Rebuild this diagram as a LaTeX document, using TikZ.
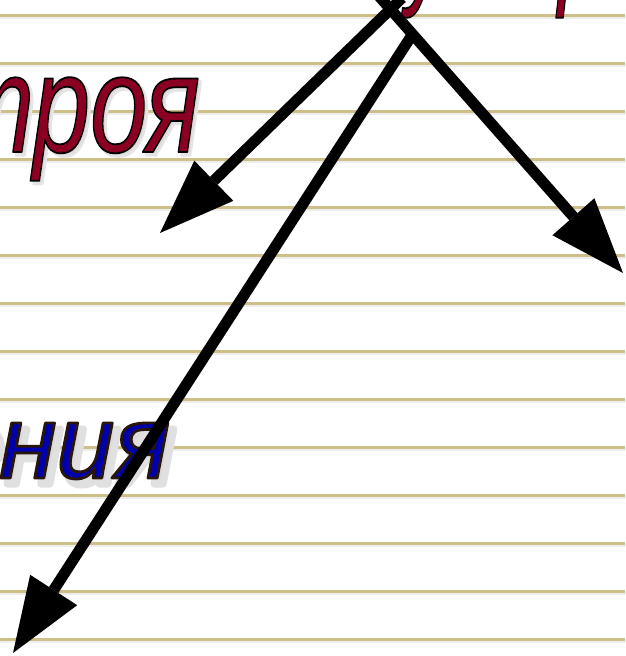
\documentclass[tikz,border=0pt]{standalone}
\usepackage{fontspec}
\usepackage{graphicx}
\usetikzlibrary{arrows.meta}

\newfontfamily\slidefont[Script=Cyrillic]{Liberation Sans}

\definecolor{slidered}{RGB}{139,0,34}
\definecolor{slideblue}{RGB}{0,0,170}
\definecolor{shade}{RGB}{218,218,218}
\definecolor{ruling}{RGB}{206,190,135}

% filled and stroked glyphs: #1 fill, #2 stroke rgb, #3 stroke width, #4 text
\newcommand{\inked}[4]{{\color{#1}\special{pdf:code #2 RG #3 w 1 j 2 Tr}#4\special{pdf:code 0 Tr}}}
\newcommand{\redword}[2][0.74]{\scalebox{#1}[1]{\inked{slidered}{0 0 0}{1.8}{#2}}}
\newcommand{\redshade}[1]{\scalebox{0.74}[1]{\inked{shade}{0.9 0.9 0.9}{3}{#1}}}
\newcommand{\blueword}[1]{\inked{slideblue}{0.157 0.086 0.039}{2.8}{#1}}
\newcommand{\blueshade}[1]{\inked{shade}{0.88 0.88 0.88}{7}{#1}}

\begin{document}
\begin{tikzpicture}[x=1pt, y=-1pt,
    bigred/.style={font=\slidefont\itshape\fontsize{139pt}{139pt}\selectfont, inner sep=0pt, outer sep=0pt},
    bigblue/.style={font=\slidefont\itshape\fontsize{104pt}{104pt}\selectfont, inner sep=0pt, outer sep=0pt},
    pointer/.style={line width=11pt, black, -{Triangle[length=75pt, width=56pt, line width=0pt]}}]

    \useasboundingbox (0,0) rectangle (625,656);
    \clip (0,0) rectangle (625,656);

    % Paper and rulings
    \fill[white] (0,0) rectangle (625,656);
    \foreach \k in {0,...,13} {
        \draw[black!7, line width=2pt] (0,{17.5+48*\k}) -- (625,{17.5+48*\k});
        \draw[ruling, line width=3pt] (0,{15+48*\k}) -- (625,{15+48*\k});
    }

    % Words cut by the frame
    \coordinate (topstart) at (406,-11);
    \coordinate (strojaend) at (200,152);
    \coordinate (nijaend) at (170,478);
    \coordinate (rightstart) at (622,671);

    \node[bigred, anchor=base west] (topword) at (topstart) {\redword[0.6]{устройства}};

    \node[bigred, anchor=base east] (strojashade) at ([shift={(3,3)}]strojaend) {\redshade{строя}};
    \node[bigred, anchor=base east] (stroja) at (strojaend) {\redword{строя}};

    \node[bigblue, anchor=base east] (nijashade) at ([shift={(6,6)}]nijaend) {\blueshade{правления}};
    \node[bigblue, anchor=base east] (nija) at (nijaend) {\blueword{правления}};

    \node[bigblue, anchor=base west] (rightword) at (rightstart) {\blueword{Т}};

    % Arrows from the title
    \coordinate (leftfrom) at (402,-2);
    \coordinate (rightfrom) at (378,-5);
    \coordinate (midfrom) at (412,35);
    \coordinate (lefttip) at (160,233);
    \coordinate (righttip) at (623,273);
    \coordinate (midtip) at (13,653);

    \draw[pointer] (leftfrom) -- (lefttip);
    \draw[pointer] (rightfrom) -- (righttip);
    \draw[pointer] (midfrom) -- (midtip);

\end{tikzpicture}
\end{document}
